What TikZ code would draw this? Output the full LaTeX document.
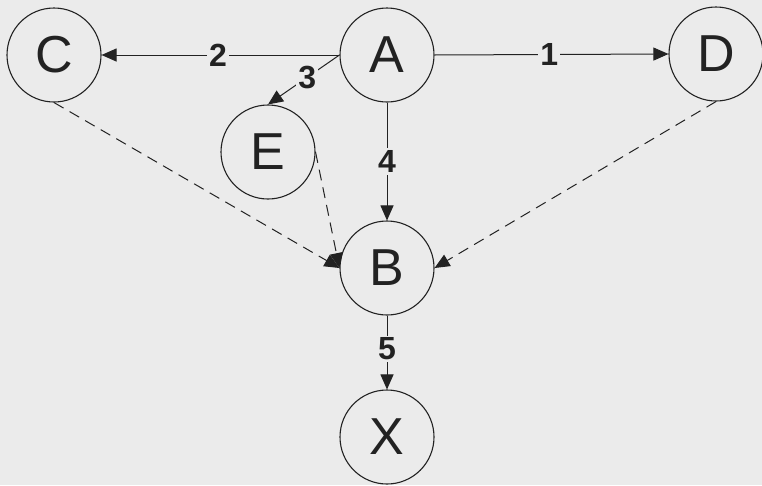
\documentclass[tikz,border=0pt]{standalone}
\usepackage{fontspec}
\setmainfont{Liberation Sans}
\usetikzlibrary{arrows.meta}
\definecolor{bg}{HTML}{EBEBEB}
\definecolor{ink}{HTML}{222222}
\begin{document}
\begin{tikzpicture}[x=1pt,y=-1pt,
  vert/.style={circle,draw=ink,line width=1.1pt,minimum size=94pt,inner sep=0pt,
    font=\fontsize{52}{52}\selectfont,text=ink},
  conn/.style={draw=ink,line width=1pt,-{Triangle[length=15pt,width=13pt]}},
  dconn/.style={conn,dash pattern=on 11pt off 7pt},
  lbl/.style={fill=bg,inner sep=2pt,font=\bfseries\fontsize{32}{32}\selectfont,text=ink}]
\fill[bg] (0,0) rectangle (762,485);
\useasboundingbox (0,0) rectangle (762,485);
\node[vert] (C) at (54,55) {C};
\node[vert] (A) at (387,55) {A};
\node[vert] (D) at (716,54) {D};
\node[vert] (E) at (268,152) {E};
\node[vert] (B) at (387,268) {B};
\node[vert] (X) at (387,437) {X};
\draw[conn] (A.west) -- node[lbl,pos=0.51] {2} (C.east);
\draw[conn] (A.east) -- node[lbl,pos=0.49] {1} (D.west);
\draw[conn] (A.west) -- node[lbl,pos=0.45] {3} (E.north);
\draw[conn] (A.south) -- node[lbl] {4} (B.north);
\draw[conn] (B.south) -- node[lbl,pos=0.45] {5} (X.north);
\draw[dconn] (C.south) -- (B.west);
\draw[dconn] (E.east) -- (B.west);
\draw[dconn] (D.south) -- (B.east);
\end{tikzpicture}
\end{document}
